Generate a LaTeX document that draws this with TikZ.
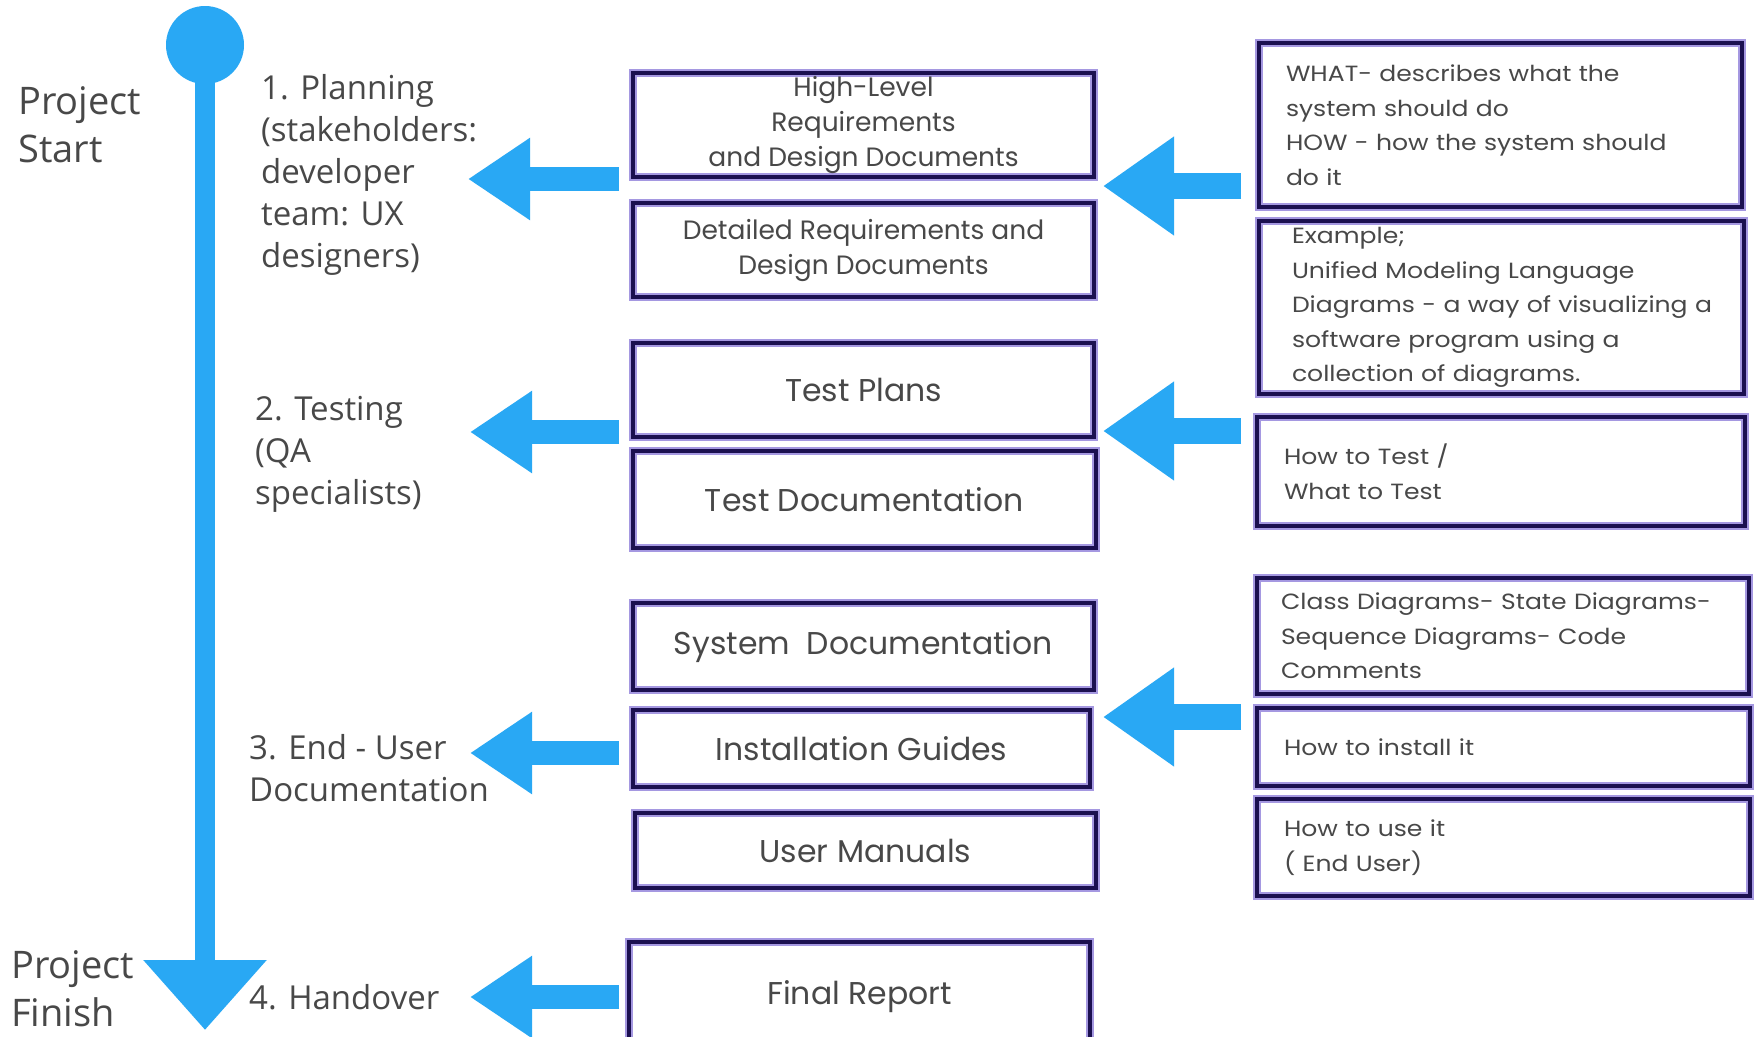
\documentclass[tikz,border=0pt]{standalone}
\usepackage{fontspec}
\setmainfont{Open Sans}
\newfontfamily\midfont{Poppins}
\newfontfamily\rightfont[FakeStretch=1.14]{Poppins}
\usetikzlibrary{arrows.meta}
\definecolor{tlblue}{RGB}{41,168,244}
\definecolor{navy}{RGB}{27,16,80}
\definecolor{lav}{RGB}{165,152,225}
\definecolor{txt}{RGB}{72,72,72}
\begin{document}
\begin{tikzpicture}[x=1pt,y=-1pt,
  box/.style={draw=lav, double=navy, double distance=4pt, line width=2pt, fill=white,
    inner sep=0pt, text=txt, align=center, font=\midfont\fontsize{31.5}{35}\selectfont},
  smallbox/.style={box, font=\midfont\fontsize{26.5}{35}\selectfont},
  rbox/.style={draw=lav, double=navy, double distance=4pt, line width=2pt, fill=white,
    inner ysep=0pt, inner xsep=27pt, text=txt, align=left, font=\rightfont\fontsize{22}{34.5}\selectfont},
  lbl/.style={anchor=west, inner sep=0pt, align=left, text=txt, font=\fontsize{33}{42}\selectfont},
  bigl/.style={lbl, font=\fontsize{38}{48}\selectfont},
  midarrow/.style={draw=tlblue, line width=24pt, -{Triangle[length=62pt,width=78pt]}},
  rarrow/.style={draw=tlblue, line width=26pt, -{Triangle[length=71pt,width=94pt]}}
]
\useasboundingbox (0,0) rectangle (1756,1036);
\fill[white] (0,0) rectangle (1756,1036);

% timeline
\node[circle, fill=tlblue, minimum size=78pt, inner sep=0pt] (start) at (205,45) {};
\coordinate (finish) at (205,1030);
\draw[tlblue, line width=20pt, -{Triangle[length=70pt,width=119pt]}] (start.center) -- (finish);

% left labels
\node[bigl] (pstart) at (18,125) {Project\\Start};
\node[bigl] (pfinish) at (11,989) {Project\\Finish};
\node[lbl] (plan) at (261,175) {1. Planning\\(stakeholders:\\developer\\team: UX\\designers)};
\node[lbl] (test) at (255,454) {2. Testing\\(QA\\specialists)};
\node[lbl] (enduser) at (249,768) {3. End - User\\Documentation};
\node[lbl] (handover) at (249,997) {4. Handover};

% middle boxes
\node[smallbox, minimum width=461pt, minimum height=104pt] (m1) at (863.5,125) {High-Level\\Requirements\\and Design Documents};
\node[smallbox, minimum width=461pt, minimum height=94pt] (m2) at (863.5,250) {Detailed Requirements and\\Design Documents};
\node[box, minimum width=461pt, minimum height=94pt] (m3) at (863.5,390) {Test Plans};
\node[box, minimum width=463pt, minimum height=97pt] (m4) at (864.5,499.5) {Test Documentation};
\node[box, minimum width=461pt, minimum height=87pt] (m5) at (863.5,646.5) {System\ \ Documentation};
\node[box, minimum width=457pt, minimum height=77pt] (m6) at (861.5,748.5) {Installation Guides};
\node[box, minimum width=461pt, minimum height=75pt] (m7) at (865.5,850.5) {User Manuals};
\node[box, minimum width=461pt, minimum height=110pt] (m8) at (859.5,997) {Final Report};

% right boxes
\node[rbox, text width=429pt, minimum height=164pt] (r1) at (1500.5,125) {WHAT- describes what the\\system should do\\HOW - how the system should\\do it};
\node[rbox, inner xsep=33pt, text width=419pt, minimum height=173pt] (r2) at (1501.5,307.5) {Example;\\Unified Modeling Language\\\mbox{Diagrams - a way of visualizing a}\\software program using a\\collection of diagrams.};
\node[rbox, text width=434pt, minimum height=109pt] (r3) at (1501,471.5) {How to Test /\\What to Test};
\node[rbox, inner xsep=24pt, text width=444pt, minimum height=116pt] (r4) at (1503,636) {Class Diagrams- State Diagrams-\\Sequence Diagrams- Code\\Comments};
\node[rbox, text width=439pt, minimum height=78pt] (r5) at (1503.5,747) {How to install it};
\node[rbox, text width=439pt, minimum height=97pt] (r6) at (1503.5,847.5) {How to use it\\( End User)};

% arrows middle -> left
\coordinate (a1s) at (619,179); \coordinate (a1e) at (468,179);
\coordinate (a2s) at (619,432); \coordinate (a2e) at (470,432);
\coordinate (a3s) at (619,753); \coordinate (a3e) at (470,753);
\coordinate (a4s) at (619,997); \coordinate (a4e) at (470,997);
\draw[midarrow] (a1s) -- (a1e);
\draw[midarrow] (a2s) -- (a2e);
\draw[midarrow] (a3s) -- (a3e);
\draw[midarrow] (a4s) -- (a4e);

% arrows right -> middle
\coordinate (b1s) at (1241,186); \coordinate (b1e) at (1103,186);
\coordinate (b2s) at (1241,431); \coordinate (b2e) at (1103,431);
\coordinate (b3s) at (1241,717); \coordinate (b3e) at (1103,717);
\draw[rarrow] (b1s) -- (b1e);
\draw[rarrow] (b2s) -- (b2e);
\draw[rarrow] (b3s) -- (b3e);
\end{tikzpicture}
\end{document}
